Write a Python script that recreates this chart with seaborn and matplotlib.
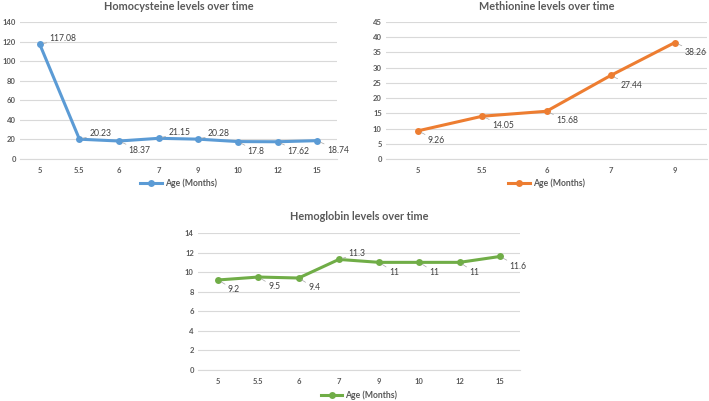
import seaborn as sns
import matplotlib.pyplot as plt
import pandas as pd
from matplotlib.lines import Line2D

hcy_age = ["5", "5.5", "6", "7", "9", "10", "12", "15"]
hcy_vals = [117.08, 20.23, 18.37, 21.15, 20.28, 17.8, 17.62, 18.74]
hcy_pos = ["up", "up", "down", "up", "up", "down", "down", "down"]

met_age = ["5", "5.5", "6", "7", "9"]
met_vals = [9.26, 14.05, 15.68, 27.44, 38.26]
met_pos = ["down", "down", "down", "down", "down"]

hb_age = ["5", "5.5", "6", "7", "9", "10", "12", "15"]
hb_vals = [9.2, 9.5, 9.4, 11.3, 11, 11, 11, 11.6]
hb_pos = ["down", "down", "down", "up", "down", "down", "down", "down"]

W, H = 709, 401
plt.rcParams["font.family"] = ["Lato", "DejaVu Sans"]
fig = plt.figure(figsize=(W / 100, H / 100), dpi=100)
txt = "#595959"


def panel(box, ages, vals, pos, color, title, ymax, ystep, legend_y):
    l, t, r, b = box
    ax = fig.add_axes([l / W, 1 - b / H, (r - l) / W, (b - t) / H])
    df = pd.DataFrame({"Age": ages, "Value": vals})
    sns.lineplot(data=df, x="Age", y="Value", color=color, lw=2.2,
                 marker="o", markersize=5, markeredgewidth=0, sort=False,
                 legend=False, ax=ax)
    for i, (v, p) in enumerate(zip(vals, pos)):
        off = (7, 4) if p == "up" else (7, -7)
        ax.annotate(f"{v:g}", xy=(i, v), xytext=off, textcoords="offset points",
                    fontsize=6.2, color="#404040", va="center", ha="left",
                    arrowprops=dict(arrowstyle="-", color="#A6A6A6", lw=0.5,
                                    shrinkA=0, shrinkB=2.5))
    ax.set_xlim(-0.5, len(ages) - 0.5)
    ax.set_ylim(0, ymax)
    ax.set_yticks(range(0, ymax + 1, ystep))
    ax.grid(axis="y", color="#D9D9D9", lw=0.8)
    ax.set_axisbelow(True)
    for s in ["top", "left", "right"]:
        ax.spines[s].set_visible(False)
    ax.spines["bottom"].set_color("#D9D9D9")
    ax.spines["bottom"].set_linewidth(0.8)
    ax.tick_params(length=0, labelsize=5.5, labelcolor=txt)
    ax.tick_params(axis="x", pad=6)
    ax.tick_params(axis="y", pad=3)
    for lab in ax.get_xticklabels() + ax.get_yticklabels():
        lab.set_fontweight("bold")
    ax.set_xlabel("")
    ax.set_ylabel("")
    ax.set_title(title, fontsize=7.8, fontweight="bold", color=txt, pad=9)
    h = Line2D([], [], color=color, lw=2.2, marker="o", markersize=5,
               markeredgewidth=0)
    leg = ax.legend(handles=[h], labels=["Age (Months)"], loc="center",
                    bbox_to_anchor=((l + r) / 2 / W, 1 - legend_y / H),
                    bbox_transform=fig.transFigure, frameon=False,
                    prop={"size": 6.2, "weight": "bold"}, handlelength=2.5,
                    handletextpad=0.3)
    for tx in leg.get_texts():
        tx.set_color(txt)
    return ax


panel((20, 22, 337, 159), hcy_age, hcy_vals, hcy_pos, "#5B9BD5",
      "Homocysteine levels over time", 140, 20, 183)
panel((386, 22, 707, 159), met_age, met_vals, met_pos, "#ED7D31",
      "Methionine levels over time", 45, 5, 183)
panel((198, 233, 520, 370), hb_age, hb_vals, hb_pos, "#70AD47",
      "Hemoglobin levels over time", 14, 2, 395)

fig.savefig("out.png", dpi=100)
